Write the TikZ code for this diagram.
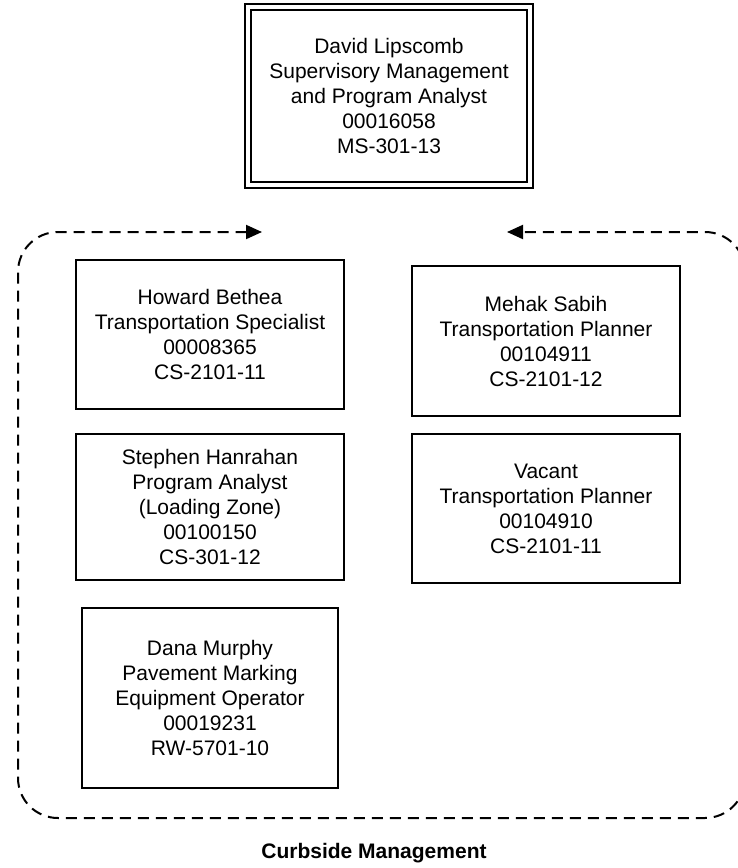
\documentclass[tikz,border=0pt]{standalone}
\usepackage{fontspec}
\setmainfont{Liberation Sans}
\usetikzlibrary{arrows.meta}
\begin{document}
\begin{tikzpicture}[x=1pt,y=-1pt,
  card/.style={draw=black, line width=2pt, rectangle, align=center, inner sep=0pt,
    font=\fontsize{21}{25}\selectfont},
  topcard/.style={card, double, double distance=4pt},
  grouploop/.style={draw=black, line width=2pt, dash pattern=on 11pt off 7pt,
    rounded corners=40pt, {Triangle[length=16pt,width=14pt]}-{Triangle[length=16pt,width=14pt]}},
  caption/.style={font=\fontsize{21}{25}\selectfont\bfseries}]
\useasboundingbox (0,0) rectangle (738,868);
\node[topcard, minimum width=282pt, minimum height=178pt] (boss) at (389,96)
  {David Lipscomb\\Supervisory Management\\and Program Analyst\\00016058\\MS-301-13};
\node[card, minimum width=268pt, minimum height=149pt] (howard) at (210,334.5)
  {Howard Bethea\\Transportation Specialist\\00008365\\CS-2101-11};
\node[card, minimum width=268pt, minimum height=150pt] (mehak) at (546,341)
  {Mehak Sabih\\Transportation Planner\\00104911\\CS-2101-12};
\node[card, minimum width=268pt, minimum height=146pt] (stephen) at (210,507)
  {Stephen Hanrahan\\Program Analyst\\(Loading Zone)\\00100150\\CS-301-12};
\node[card, minimum width=268pt, minimum height=149pt] (vacant) at (546,508.5)
  {Vacant\\Transportation Planner\\00104910\\CS-2101-11};
\node[card, minimum width=256pt, minimum height=180pt] (dana) at (210,698)
  {Dana Murphy\\Pavement Marking\\Equipment Operator\\00019231\\RW-5701-10};
\coordinate (lefttip) at (262,232);
\coordinate (righttip) at (507,232);
\draw[grouploop] (lefttip) -- (18,232) -- (18,818) -- (745,818) -- (745,232) -- (righttip);
\node[caption] (title) at (374,853) {Curbside Management};
\end{tikzpicture}
\end{document}
